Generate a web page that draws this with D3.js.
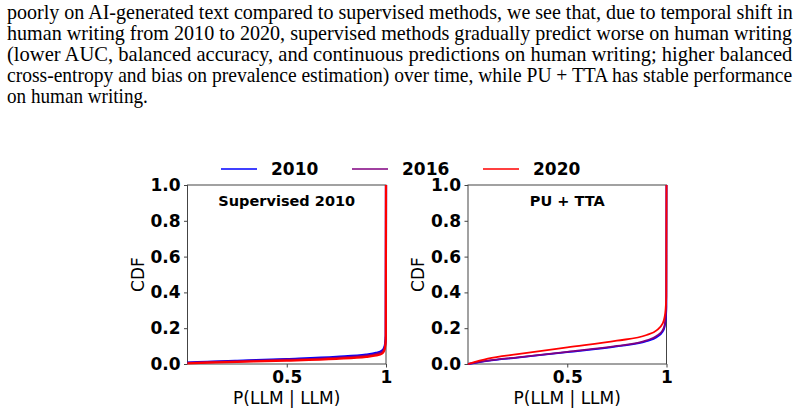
<!DOCTYPE html>
<html>
<head>
<meta charset="utf-8">
<script src="https://cdn.jsdelivr.net/npm/d3@7"></script>
<style>
  body { margin: 0; background: #fff; }
  svg { display: block; }
</style>
</head>
<body>
<svg id="chart"></svg>
<script>
// paragraph above the figure
var paraLines = [
  "poorly on AI-generated text compared to supervised methods, we see that, due to temporal shift in",
  "human writing from 2010 to 2020, supervised methods gradually predict worse on human writing",
  "(lower AUC, balanced accuracy, and continuous predictions on human writing; higher balanced",
  "cross-entropy and bias on prevalence estimation) over time, while PU + TTA has stable performance",
  "on human writing."
];

// data
var years = ["2010", "2016", "2020"];
var colors = ["#0000ff", "#800080", "#ff0000"];
var panelTitles = ["Supervised 2010", "PU + TTA"];
var xTicks = [0.5, 1];
var xTickLabels = ["0.5", "1"];
var yTicks = [0, 0.2, 0.4, 0.6, 0.8, 1.0];
var probs = [0, 0.1, 0.25, 0.5, 0.75, 0.9, 0.95, 0.98, 0.99, 0.995, 0.999, 1];

var supervised2010 = [0.008, 0.012, 0.018, 0.028, 0.040, 0.052, 0.062, 0.075, 0.090, 0.110, 0.160, 1];
var supervised2016 = [0.006, 0.010, 0.015, 0.024, 0.035, 0.047, 0.056, 0.068, 0.082, 0.100, 0.150, 1];
var supervised2020 = [0.004, 0.008, 0.012, 0.019, 0.029, 0.040, 0.048, 0.058, 0.072, 0.090, 0.140, 1];

var puTta2010 = [0.0, 0.018, 0.036, 0.066, 0.098, 0.128, 0.150, 0.180, 0.205, 0.240, 0.300, 1];
var puTta2016 = [0.0, 0.019, 0.037, 0.068, 0.101, 0.132, 0.156, 0.188, 0.215, 0.255, 0.320, 1];
var puTta2020 = [0.0, 0.030, 0.055, 0.093, 0.130, 0.162, 0.188, 0.225, 0.260, 0.300, 0.380, 1];

var svgWidth = 804;
var svgHeight = 415;
var plotTop = 185, plotBottom = 364;
var panelLefts = [187.5, 468];
var plotW = 198.5;

var svg = d3.select("#chart")
  .attr("width", svgWidth)
  .attr("height", svgHeight);

// text block: justified lines, squeezed horizontally to the column width
svg.selectAll(".para")
  .data(paraLines)
  .enter()
  .append("text")
  .attr("class", "para")
  .attr("font-family", "'Liberation Serif', 'Times New Roman', serif")
  .attr("font-size", "20px")
  .attr("fill", "#000")
  .text(function(d) { return d; })
  .attr("transform", function(d, i) {
    var w = this.getComputedTextLength();
    var target = i < 4 ? 786 : 141;
    return "translate(7," + (19 + i * 21) + ") scale(" + (target / w) + ",1.05)";
  });

var yScale = d3.scaleLinear().domain([0, 1]).range([plotBottom, plotTop]);

function drawPanel(left, title, series, lw) {
  var xScale = d3.scaleLinear().domain([0, 1]).range([left, left + plotW]);
  var g = svg.append("g");

  // frame
  g.append("rect")
    .attr("x", left).attr("y", plotTop)
    .attr("width", plotW).attr("height", plotBottom - plotTop)
    .attr("fill", "none").attr("stroke", "#444").attr("stroke-width", 1);

  var yAxis = d3.axisLeft(yScale)
    .tickValues(yTicks)
    .tickFormat(d3.format(".1f"))
    .tickSize(3.5).tickPadding(3.5);
  var yg = g.append("g")
    .attr("transform", "translate(" + left + ",0)")
    .call(yAxis);

  var xAxis = d3.axisBottom(xScale)
    .tickValues(xTicks)
    .tickFormat(function(d, i) { return xTickLabels[i]; })
    .tickSize(3.5).tickPadding(3.5);
  var xg = g.append("g")
    .attr("transform", "translate(0," + plotBottom + ")")
    .call(xAxis);

  [yg, xg].forEach(function(ax) {
    ax.select(".domain").remove();
    ax.selectAll("line").attr("stroke", "#444");
    ax.selectAll("text")
      .attr("font-family", "'DejaVu Sans', sans-serif")
      .attr("font-weight", "bold")
      .attr("font-size", "17px")
      .attr("fill", "#000");
  });

  var line = d3.line()
    .x(function(d) { return xScale(d[0]); })
    .y(function(d) { return yScale(d[1]); })
    .curve(d3.curveMonotoneX);

  series.forEach(function(vals, k) {
    g.append("path")
      .datum(probs.map(function(p, i) { return [p, vals[i]]; }))
      .attr("d", line)
      .attr("fill", "none")
      .attr("stroke", colors[k])
      .attr("stroke-width", lw);
  });

  g.append("text")
    .attr("x", left + plotW / 2).attr("y", 206)
    .attr("text-anchor", "middle")
    .attr("font-family", "'DejaVu Sans', sans-serif")
    .attr("font-weight", "bold")
    .attr("font-size", "14.5px")
    .text(title);

  g.append("text")
    .attr("x", left + plotW / 2).attr("y", 404)
    .attr("text-anchor", "middle")
    .attr("font-family", "'DejaVu Sans', sans-serif")
    .attr("font-size", "17px")
    .text("P(LLM | LLM)");

  g.append("text")
    .attr("transform", "translate(" + (left - 44) + "," + ((plotTop + plotBottom) / 2) + ") rotate(-90)")
    .attr("text-anchor", "middle")
    .attr("font-family", "'DejaVu Sans', sans-serif")
    .attr("font-size", "17px")
    .text("CDF");
}

drawPanel(panelLefts[0], panelTitles[0], [supervised2010, supervised2016, supervised2020], 2.2);
drawPanel(panelLefts[1], panelTitles[1], [puTta2010, puTta2016, puTta2020], 1.8);

// legend across the top
var legendX = [221, 352, 483];
var legend = svg.selectAll(".legend")
  .data(years)
  .enter()
  .append("g")
  .attr("class", "legend")
  .attr("transform", function(d, i) { return "translate(" + legendX[i] + ",169)"; });

legend.append("line")
  .attr("x1", 0).attr("x2", 36)
  .attr("stroke", function(d, i) { return colors[i]; })
  .attr("stroke-width", 1.5);

legend.append("text")
  .attr("x", 50).attr("y", 6)
  .attr("font-family", "'DejaVu Sans', sans-serif")
  .attr("font-weight", "bold")
  .attr("font-size", "17px")
  .text(function(d) { return d; });
</script>
</body>
</html>
